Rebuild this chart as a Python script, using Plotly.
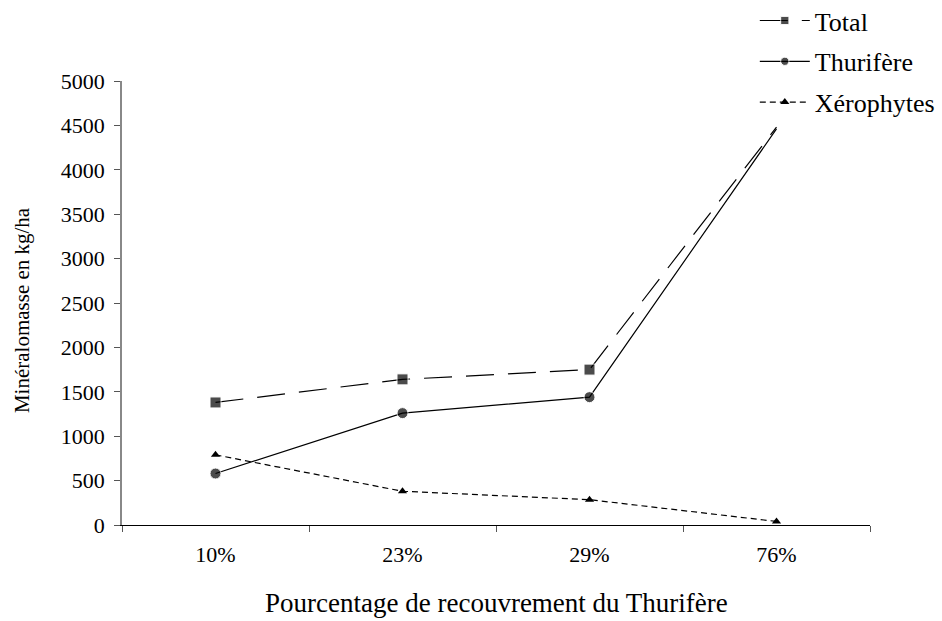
import plotly.graph_objects as go

categories = ["10%", "23%", "29%", "76%"]
total = [1380, 1640, 1750, 4480]
thurifere = [580, 1260, 1440, 4460]
xerophytes = [790, 380, 285, 40]

FONT = "Liberation Serif, Times New Roman, serif"

fig = go.Figure()
fig.add_trace(go.Scatter(
    x=categories, y=total, name="Total", mode="lines+markers", legendgroup="a",
    line=dict(color="black", width=1.2, dash="28px,14px"),
    marker=dict(symbol="square", size=[11, 11, 11, 0], color="black")))
fig.add_trace(go.Scatter(
    x=categories, y=thurifere, name="Thurifère", mode="lines+markers", legendgroup="b",
    line=dict(color="black", width=1.2),
    marker=dict(symbol="circle", size=[11, 11, 11, 0], color="black")))
fig.add_trace(go.Scatter(
    x=categories, y=xerophytes, name="Xérophytes", mode="lines+markers", legendgroup="c",
    line=dict(color="black", width=1.2, dash="6px,4px"),
    marker=dict(symbol="triangle-up", size=8, color="black")))

fig.update_layout(
    width=942, height=621,
    margin=dict(l=122, r=72, t=81, b=96, autoexpand=False),
    paper_bgcolor="white", plot_bgcolor="white",
    font=dict(family=FONT, size=22, color="black"),
    showlegend=True,
    legend=dict(x=0.846, y=1.189, xanchor="left", yanchor="top",
                font=dict(family=FONT, size=26, color="black"),
                bgcolor="rgba(255,255,255,0)", tracegroupgap=4,
                traceorder="grouped", itemwidth=50),
    xaxis=dict(type="category", range=[-0.5, 3.5], showline=True,
               linecolor="black", linewidth=1.2,
               ticks="outside", tickson="boundaries", ticklen=6, tickcolor="#555",
               showgrid=False, zeroline=False, ticklabelstandoff=9,
               tickfont=dict(family=FONT, size=22)),
    yaxis=dict(range=[0, 5000], dtick=500, showline=True, linecolor="#888",
               linewidth=1.5, ticks="outside", ticklen=6, tickcolor="#555",
               showgrid=False, zeroline=False, ticklabelstandoff=5,
               tickfont=dict(family=FONT, size=22)),
    annotations=[
        dict(text="Pourcentage de recouvrement du Thurifère", xref="paper", yref="paper",
             x=0.5, y=-0.1757, xanchor="center", yanchor="middle", showarrow=False,
             font=dict(family=FONT, size=27)),
        dict(text="Minéralomasse en kg/ha", xref="paper", yref="paper",
             x=-0.1337, y=0.484, xanchor="center", yanchor="middle", showarrow=False,
             textangle=-90, font=dict(family=FONT, size=21)),
    ],
)

fig.write_html("out.html", config={"displayModeBar": False},
               post_script="document.body.style.margin='0';document.body.style.overflow='hidden';")
